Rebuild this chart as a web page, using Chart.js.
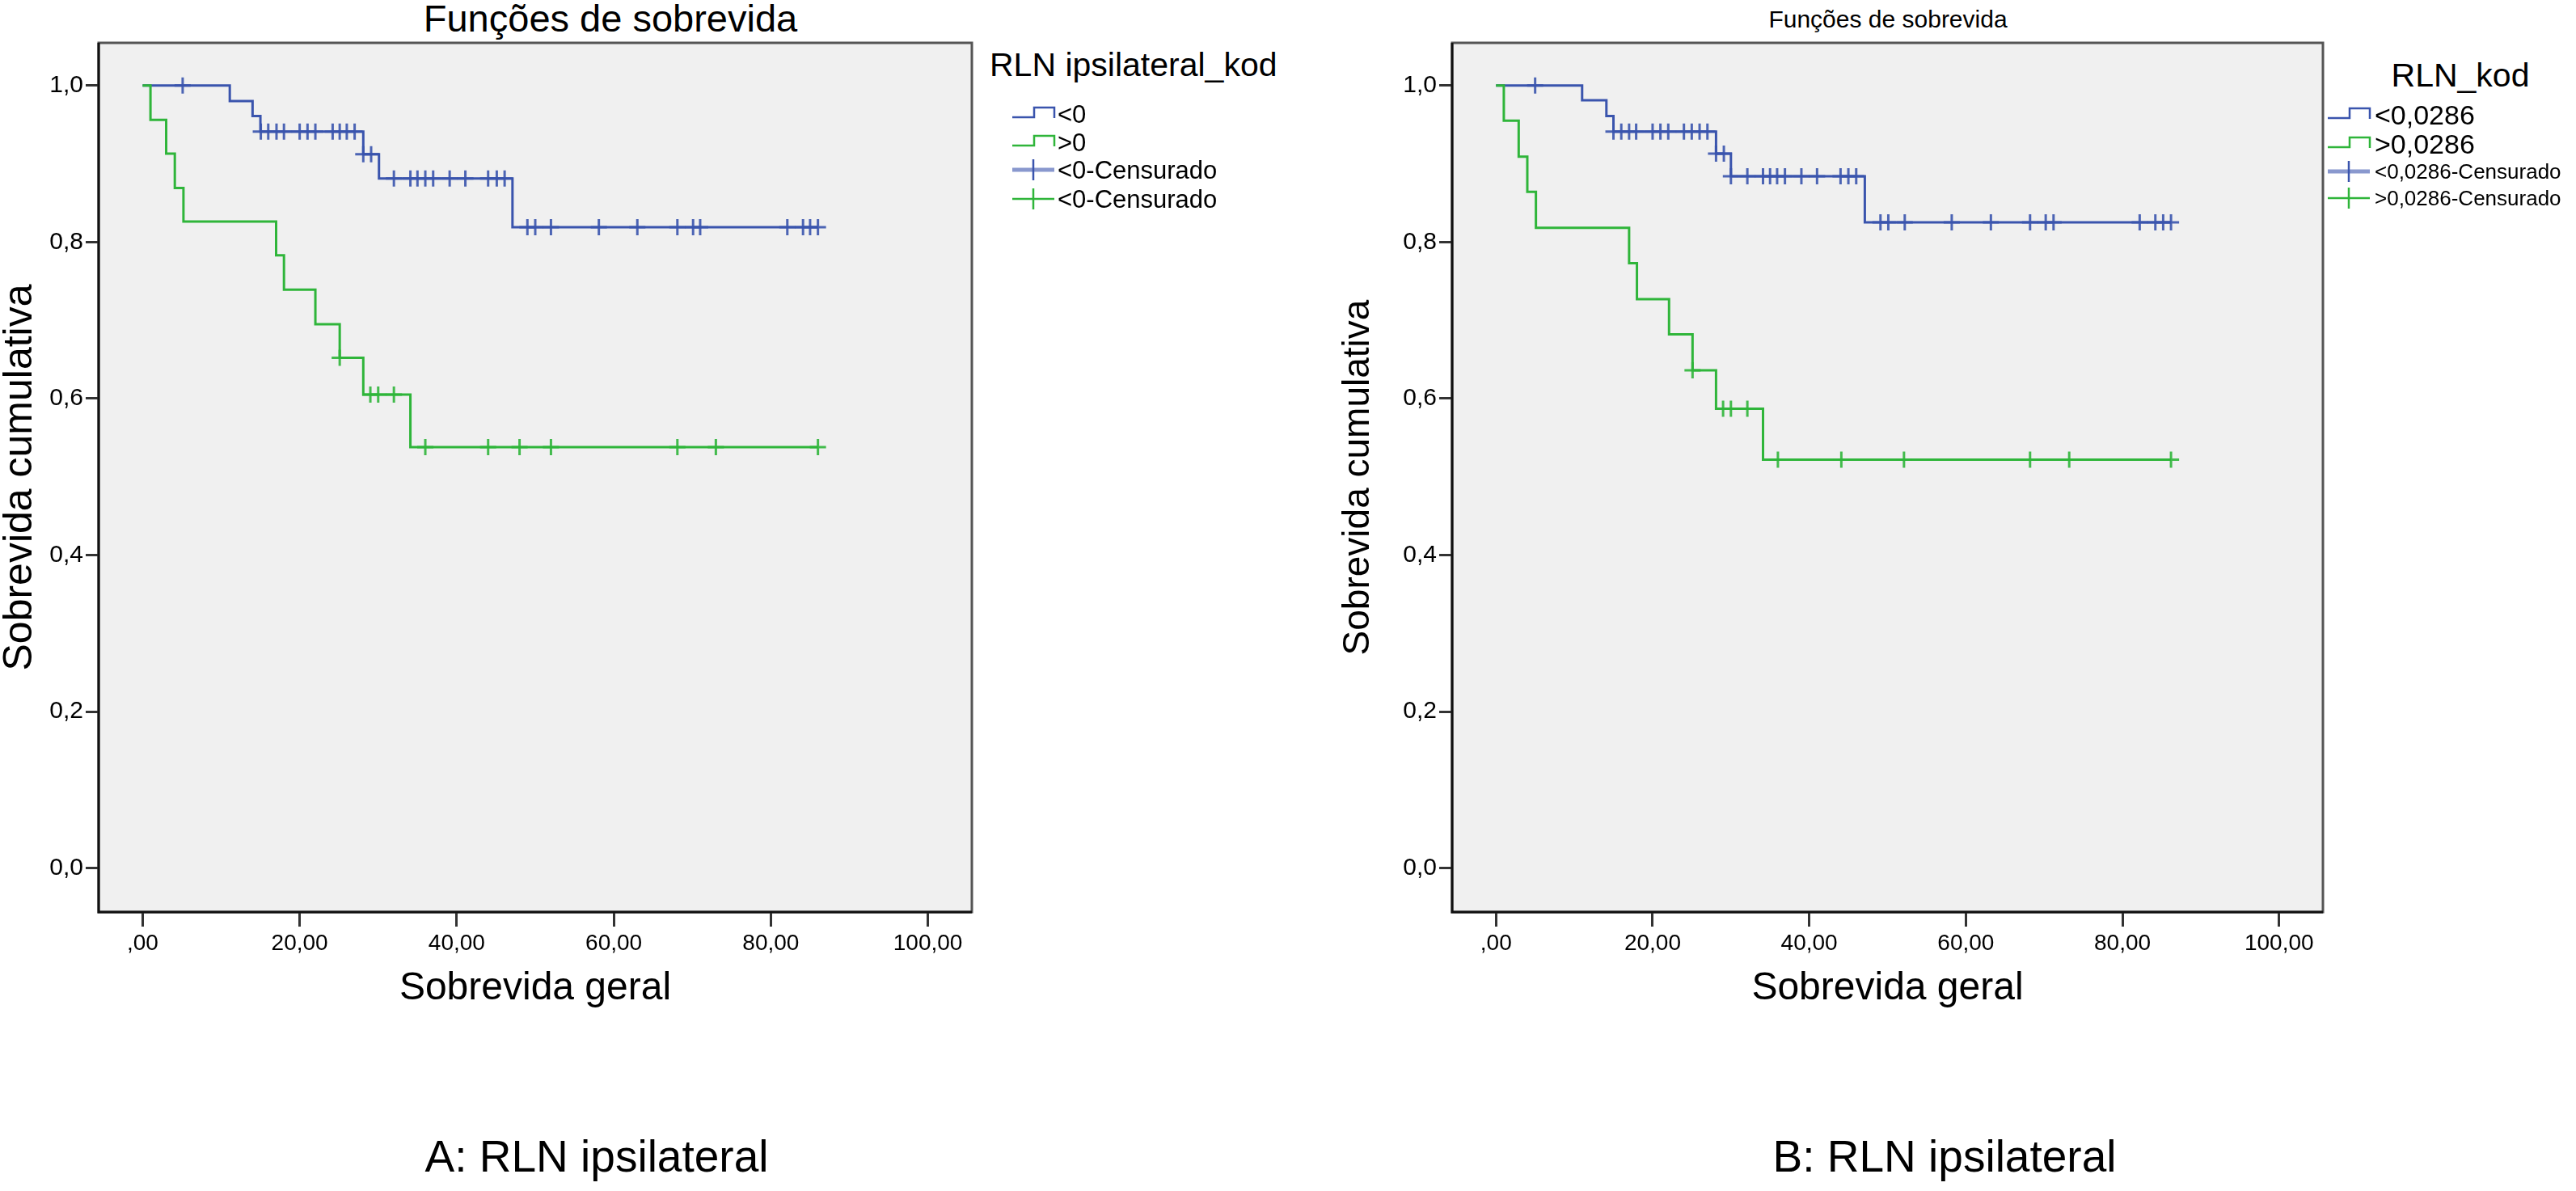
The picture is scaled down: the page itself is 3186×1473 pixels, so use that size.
<!DOCTYPE html>
<html lang="pt">
<head>
<meta charset="utf-8">
<title>Funções de sobrevida</title>
<script src="https://cdn.jsdelivr.net/npm/chart.js@4.4.1/dist/chart.umd.min.js"></script>
<style>
  html, body { margin: 0; padding: 0; background: #fff; }
  body { width: 3186px; height: 1473px; position: relative; overflow: hidden;
         font-family: "Liberation Sans", Arial, sans-serif; color: #000; }
  canvas { position: absolute; top: 0; }
  .txt { position: absolute; white-space: nowrap; line-height: 1; }
  .c { transform: translate(-50%, -50%); }
  .l { transform: translate(0, -50%); }
  .leg { position: absolute; height: 36px; width: 420px; }
  .leg svg { position: absolute; left: 0; top: 0; }
  .leg span { position: absolute; top: 50%; transform: translateY(-50%); white-space: nowrap; line-height: 1; }
</style>
</head>
<body>

<div class="txt c" style="left:755px; top:22px; font-size:47px;">Funções de sobrevida</div>
<div class="txt c" style="left:2335px; top:24px; font-size:30px;">Funções de sobrevida</div>

<canvas id="chartA" width="1215" height="1280" style="left:0; width:1215px; height:1280px;"></canvas>
<canvas id="chartB" width="1250" height="1280" style="left:1640px; width:1250px; height:1280px;"></canvas>

<div class="txt l" style="left:1224px; top:80px; font-size:41px;">RLN ipsilateral_kod</div>
<div id="legA"></div>
<div class="txt c" style="left:3043px; top:93px; font-size:41px;">RLN_kod</div>
<div id="legB"></div>

<div class="txt c" style="left:738px; top:1430px; font-size:55px;">A: RLN ipsilateral</div>
<div class="txt c" style="left:2405px; top:1430px; font-size:55px;">B: RLN ipsilateral</div>

<script>
// eixos
var xTicks = [0, 20, 40, 60, 80, 100]
    , yTicks = [0, 0.2, 0.4, 0.6, 0.8, 1.0]
;

// A: RLN ipsilateral  (tempo em meses / sobrevida cumulativa)
var tempoA1 = [0, 11.1, 14.0, 15.0, 28.1, 30.1, 47.1, 86.0]
    , survA1 = [1.0, 0.980, 0.961, 0.941, 0.912, 0.881, 0.819, 0.819]
    , censA1 = [5.1, 15.05, 16.0, 17.05, 18.0, 20.0, 21.0, 22.0, 24.2, 25.1, 26.0, 27.0, 28.1, 29.1,
                32.0, 34.1, 35.0, 36.0, 37.0, 39.1, 41.1, 44.0, 45.1, 46.1,
                49.0, 50.0, 52.0, 58.1, 63.0, 68.1, 70.1, 71.0, 82.1, 84.1, 85.0, 86.0]
    , tempoA2 = [0, 1.0, 3.0, 4.1, 5.2, 17.0, 18.0, 22.0, 25.1, 28.1, 34.1, 86.0]
    , survA2 = [1.0, 0.956, 0.913, 0.869, 0.826, 0.783, 0.739, 0.695, 0.652, 0.605, 0.538, 0.538]
    , censA2 = [25.1, 29.0, 30.0, 32.0, 36.0, 44.0, 48.0, 52.0, 68.1, 73.0, 86.0]
    , legendaA = ['<0', '>0', '<0-Censurado', '<0-Censurado']
;

// B: RLN_kod
var tempoB1 = [0, 11.0, 14.1, 15.0, 28.1, 30.0, 47.1, 86.2]
    , survB1 = [1.0, 0.981, 0.961, 0.941, 0.913, 0.884, 0.825, 0.825]
    , censB1 = [5.0, 15.0, 16.0, 17.0, 17.9, 20.0, 21.0, 22.0, 24.0, 25.0, 26.0, 27.0, 28.1, 29.1,
                30.0, 32.1, 34.1, 35.0, 35.9, 36.9, 39.0, 41.0, 44.0, 45.0, 46.0,
                49.1, 50.1, 52.2, 58.2, 63.2, 68.2, 70.2, 71.2, 82.2, 84.2, 85.2, 86.2]
    , tempoB2 = [0, 1.0, 2.9, 4.0, 5.1, 17.0, 18.0, 22.1, 25.1, 28.1, 34.1, 86.2]
    , survB2 = [1.0, 0.955, 0.909, 0.864, 0.818, 0.773, 0.727, 0.682, 0.636, 0.587, 0.522, 0.522]
    , censB2 = [25.1, 29.0, 30.0, 32.1, 36.0, 44.1, 52.1, 68.2, 73.2, 86.2]
    , legendaB = ['<0,0286', '>0,0286', '<0,0286-Censurado', '>0,0286-Censurado']
;

var azul = '#3a54ad', verde = '#2fb53a';

// valor da curva no tempo t (degrau)
function survAt(tempos, surv, t) {
    var v = surv[0];
    for (var i = 0; i < tempos.length; i++) {
        if (tempos[i] <= t + 1e-9) v = surv[i];
    }
    return v;
}

function degrau(tempos, surv) {
    return tempos.map(function (t, i) { return {x: t, y: surv[i]}; });
}

function censuras(cens, tempos, surv) {
    return cens.map(function (t) { return {x: t, y: survAt(tempos, surv, t)}; });
}

function fmtX(v) {
    var s = v.toFixed(2).replace('.', ',');
    return v === 0 ? s.substr(1) : s;
}

// fundo cinza + moldura
var moldura = {
    id: 'moldura',
    beforeDraw: function (chart) {
        var a = chart.chartArea, ctx = chart.ctx;
        ctx.save();
        ctx.fillStyle = '#f0f0f0';
        ctx.fillRect(a.left, a.top, a.right - a.left, a.bottom - a.top);
        ctx.restore();
    },
    afterDraw: function (chart) {
        var a = chart.chartArea, ctx = chart.ctx;
        ctx.save();
        ctx.strokeStyle = '#555';
        ctx.lineWidth = 3;
        ctx.strokeRect(a.left, a.top, a.right - a.left, a.bottom - a.top);
        ctx.strokeStyle = '#111';
        ctx.beginPath();
        ctx.moveTo(a.left, a.top);
        ctx.lineTo(a.left, a.bottom);
        ctx.lineTo(a.right, a.bottom);
        ctx.stroke();
        ctx.restore();
    }
};

function grafico(id, o) {
    var ctx = document.getElementById(id).getContext('2d');
    return new Chart(ctx, {
        type: 'line',
        data: {
            datasets: [{
                data: degrau(o.t1, o.s1), borderColor: azul, borderWidth: 3,
                stepped: 'before', pointRadius: 0, fill: false, order: 3
            }, {
                data: degrau(o.t2, o.s2), borderColor: verde, borderWidth: 3,
                stepped: 'before', pointRadius: 0, fill: false, order: 2
            }, {
                data: censuras(o.c1, o.t1, o.s1), showLine: false, order: 1,
                pointStyle: 'cross', pointRadius: 10, pointBorderWidth: 3,
                pointBorderColor: 'rgba(58,84,173,0.9)', pointBackgroundColor: azul
            }, {
                data: censuras(o.c2, o.t2, o.s2), showLine: false, order: 0,
                pointStyle: 'cross', pointRadius: 10, pointBorderWidth: 3,
                pointBorderColor: 'rgba(47,181,58,0.9)', pointBackgroundColor: verde
            }]
        },
        options: {
            responsive: false,
            animation: false,
            devicePixelRatio: 1,
            events: [],
            layout: { padding: { top: 53, right: o.padR, left: 0, bottom: 0 } },
            plugins: { legend: { display: false }, tooltip: { enabled: false } },
            scales: {
                x: {
                    type: 'linear', min: -5.6, max: 105.6,
                    afterFit: function (s) { s.height = 152; },
                    afterBuildTicks: function (s) { s.ticks = xTicks.map(function (v) { return {value: v}; }); },
                    grid: { drawOnChartArea: false, drawTicks: true, tickLength: 18, tickWidth: 3, tickColor: '#333' },
                    border: { display: false },
                    ticks: { color: '#000', padding: 4, maxRotation: 0, autoSkip: false,
                             font: { family: 'Liberation Sans', size: 28 },
                             callback: function (v) { return fmtX(v); } },
                    title: { display: true, text: 'Sobrevida geral', color: '#000',
                             font: { family: 'Liberation Sans', size: 48, lineHeight: 1 },
                             padding: { top: 0, bottom: 33 } }
                },
                y: {
                    type: 'linear', min: -0.056, max: 1.0544,
                    afterFit: function (s) { s.width = o.yW; },
                    afterBuildTicks: function (s) { s.ticks = yTicks.map(function (v) { return {value: v}; }); },
                    grid: { drawOnChartArea: false, drawTicks: true, tickLength: 16, tickWidth: 3, tickColor: '#333' },
                    border: { display: false },
                    ticks: { color: '#000', padding: 3, autoSkip: false,
                             font: { family: 'Liberation Sans', size: 30 },
                             callback: function (v) { return v.toFixed(1).replace('.', ','); } },
                    title: { display: true, text: 'Sobrevida cumulativa', color: '#000',
                             font: { family: 'Liberation Sans', size: o.yTitle, lineHeight: 1 },
                             padding: { top: o.yTitlePad, bottom: 0 } }
                }
            }
        },
        plugins: [moldura]
    });
}

// legenda (simbolo em svg + texto)
function legenda(alvo, itens, x0, ys, txtX, tamanhos) {
    var cores = [azul, verde, azul, verde], html = '';
    itens.forEach(function (txt, i) {
        var svg;
        if (i < 2) {
            svg = '<svg width="56" height="36"><polyline points="0,22 27,22 27,10 52,10 52,23" fill="none" stroke="' +
                cores[i] + '" stroke-width="2.5"/></svg>';
        } else {
            svg = '<svg width="56" height="36"><line x1="0" y1="18" x2="52" y2="18" stroke="' + cores[i] +
                '" stroke-width="' + (i === 2 ? 5 : 2.5) + '" stroke-opacity="' + (i === 2 ? 0.6 : 1) + '"/>' +
                '<line x1="26" y1="5" x2="26" y2="31" stroke="' + cores[i] + '" stroke-width="2.5"/></svg>';
        }
        html += '<div class="leg" style="left:' + x0 + 'px; top:' + (ys[i] - 18) + 'px;">' + svg +
            '<span style="left:' + txtX + 'px; font-size:' + tamanhos[i] + 'px;">' + txt + '</span></div>';
    });
    document.getElementById(alvo).innerHTML = html;
}

grafico('chartA', { t1: tempoA1, s1: survA1, c1: censA1, t2: tempoA2, s2: survA2, c2: censA2,
                    padR: 13, yW: 122, yTitle: 50, yTitlePad: 0 });
grafico('chartB', { t1: tempoB1, s1: survB1, c1: censB1, t2: tempoB2, s2: survB2, c2: censB2,
                    padR: 17, yW: 156, yTitle: 46, yTitlePad: 17 });

legenda('legA', legendaA, 1252, [141, 176, 210, 246], 56, [31, 31, 31, 31]);
legenda('legB', legendaB, 2879, [142, 178, 212, 245], 58, [34, 34, 26, 26]);
</script>
</body>
</html>
